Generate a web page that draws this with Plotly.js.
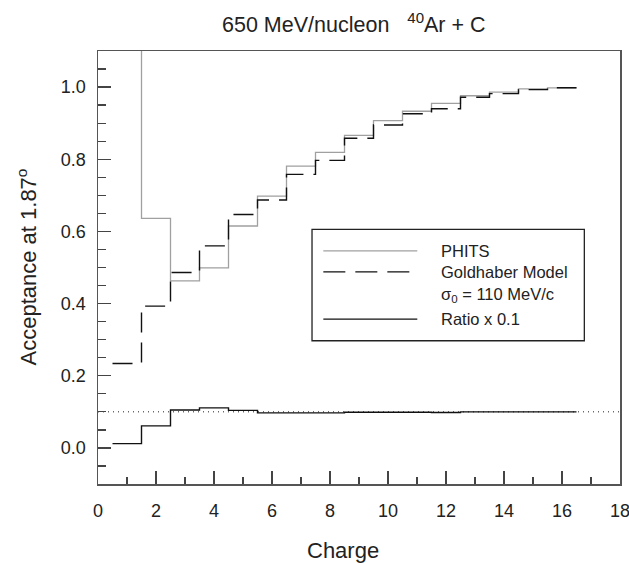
<!DOCTYPE html>
<html>
<head>
<meta charset="utf-8">
<script src="https://cdn.plot.ly/plotly-3.0.1.min.js"></script>
<style>html,body{margin:0;padding:0;background:#fff;}#chart{width:629px;height:563px;}</style>
</head>
<body>
<div id="chart"></div>
<script>
// Charge bins (fragment Z)
const charge = [1, 2, 3, 4, 5, 6, 7, 8, 9, 10, 11, 12, 13, 14, 15, 16];
// PHITS acceptance (Z=1 is off scale)
const phits = [2.0, 0.636, 0.463, 0.499, 0.615, 0.698, 0.781, 0.819, 0.866, 0.907, 0.933, 0.955, 0.976, 0.986, 0.995, 0.998];
// Goldhaber model, sigma0 = 110 MeV/c
const goldhaber = [0.234, 0.393, 0.486, 0.560, 0.647, 0.687, 0.758, 0.797, 0.858, 0.895, 0.926, 0.940, 0.972, 0.982, 0.993, 0.998];
// Ratio x 0.1
const ratio = [0.012, 0.061, 0.105, 0.111, 0.104, 0.097, 0.097, 0.097, 0.099, 0.099, 0.099, 0.098, 0.100, 0.100, 0.100, 0.100];
// reference level
const refX = [0, 18];
const refY = [0.1, 0.1];
const xTicks = [0, 2, 4, 6, 8, 10, 12, 14, 16, 18];
const yTicks = [0.0, 0.2, 0.4, 0.6, 0.8, 1.0];

function edges(xs) { return xs.map(z => z - 0.5).concat([xs[xs.length - 1] + 0.5]); }
function stepY(ys) { return ys.concat([ys[ys.length - 1]]); }

const FONT = 'Liberation Sans, Arial, Helvetica, sans-serif';

const traces = [
  {x: refX, y: refY, mode: 'lines', line: {color: '#222', width: 1, dash: '1px,4px'}, hoverinfo: 'skip'},
  {x: edges(charge), y: stepY(phits), mode: 'lines', line: {shape: 'hv', color: '#a0a0a0', width: 1.3}, name: 'PHITS'},
  {x: edges(charge), y: stepY(goldhaber), mode: 'lines', line: {shape: 'hv', color: '#111', width: 1.4, dash: '20px,10px'}, name: 'Goldhaber'},
  {x: edges(charge), y: stepY(ratio), mode: 'lines', line: {shape: 'hv', color: '#111', width: 1.4}, name: 'Ratio'}
];

const lx0 = 7.77, lx1 = 11.01, tx = 11.77;
const layout = {
  width: 629, height: 563,
  margin: {l: 98, r: 9, t: 51, b: 79},
  paper_bgcolor: '#fff', plot_bgcolor: '#fff',
  showlegend: false,
  font: {family: FONT, color: '#222', size: 18},
  xaxis: {
    range: [0, 18], tickvals: xTicks, ticktext: xTicks.map(String),
    ticks: 'inside', ticklen: 13, tickwidth: 1.3, tickcolor: '#444',
    minor: {dtick: 1, tick0: 0, ticks: 'inside', ticklen: 7, tickwidth: 1.3, tickcolor: '#444'},
    showline: true, linecolor: '#555', linewidth: 1.5, mirror: true,
    showgrid: false, zeroline: false, ticklabelstandoff: 10, ticklabeloverflow: 'allow',
    tickfont: {size: 18, family: FONT, color: '#222'}
  },
  yaxis: {
    range: [-0.1, 1.1], tickvals: yTicks, ticktext: yTicks.map(v => v.toFixed(1)),
    ticks: 'inside', ticklen: 13, tickwidth: 1.3, tickcolor: '#444',
    minor: {dtick: 0.05, tick0: 0, ticks: 'inside', ticklen: 8, tickwidth: 1.3, tickcolor: '#444'},
    showline: true, linecolor: '#555', linewidth: 1.5, mirror: true,
    showgrid: false, zeroline: false, ticklabelstandoff: 7,
    tickfont: {size: 18, family: FONT, color: '#222'}
  },
  shapes: [
    {type: 'rect', xref: 'x', yref: 'y', x0: 7.38, x1: 16.77, y0: 0.297, y1: 0.6055, line: {color: '#222', width: 1.3}, fillcolor: '#fff'},
    {type: 'line', xref: 'x', yref: 'y', x0: lx0, x1: lx1, y0: 0.546, y1: 0.546, line: {color: '#a0a0a0', width: 1.3}},
    {type: 'line', xref: 'x', yref: 'y', x0: lx0, x1: lx1, y0: 0.488, y1: 0.488, line: {color: '#111', width: 1.4, dash: '22px,10px'}},
    {type: 'line', xref: 'x', yref: 'y', x0: lx0, x1: lx1, y0: 0.357, y1: 0.357, line: {color: '#111', width: 1.4}}
  ],
  annotations: [
    {text: '650 MeV/nucleon\u00a0\u00a0\u00a0<sup>40</sup>Ar + C', xref: 'paper', yref: 'paper', x: 0.49, y: 1, yshift: 28, xanchor: 'center', yanchor: 'middle', showarrow: false, font: {size: 21.5, family: FONT, color: '#222'}},
    {text: 'Charge', xref: 'paper', yref: 'paper', x: 0.47, y: 0, yshift: -66, xanchor: 'center', yanchor: 'middle', showarrow: false, font: {size: 22, family: FONT, color: '#222'}},
    {text: 'Acceptance at 1.87<sup>o</sup>', xref: 'paper', yref: 'paper', x: 0, xshift: -72, y: 0.5, xanchor: 'center', yanchor: 'middle', textangle: -90, showarrow: false, font: {size: 22, family: FONT, color: '#222'}},
    {text: 'PHITS', xref: 'x', yref: 'y', x: tx, y: 0.546, xanchor: 'left', yanchor: 'middle', showarrow: false, font: {size: 16.5, family: FONT, color: '#222'}},
    {text: 'Goldhaber Model', xref: 'x', yref: 'y', x: tx, y: 0.488, xanchor: 'left', yanchor: 'middle', showarrow: false, font: {size: 16.5, family: FONT, color: '#222'}},
    {text: '\u03c3<sub>0</sub> = 110 MeV/c', xref: 'x', yref: 'y', x: tx, y: 0.424, xanchor: 'left', yanchor: 'middle', showarrow: false, font: {size: 16.5, family: FONT, color: '#222'}},
    {text: 'Ratio x 0.1', xref: 'x', yref: 'y', x: tx, y: 0.357, xanchor: 'left', yanchor: 'middle', showarrow: false, font: {size: 16.5, family: FONT, color: '#222'}}
  ]
};

Plotly.newPlot('chart', traces, layout, {displayModeBar: false, staticPlot: true});
</script>
</body>
</html>
